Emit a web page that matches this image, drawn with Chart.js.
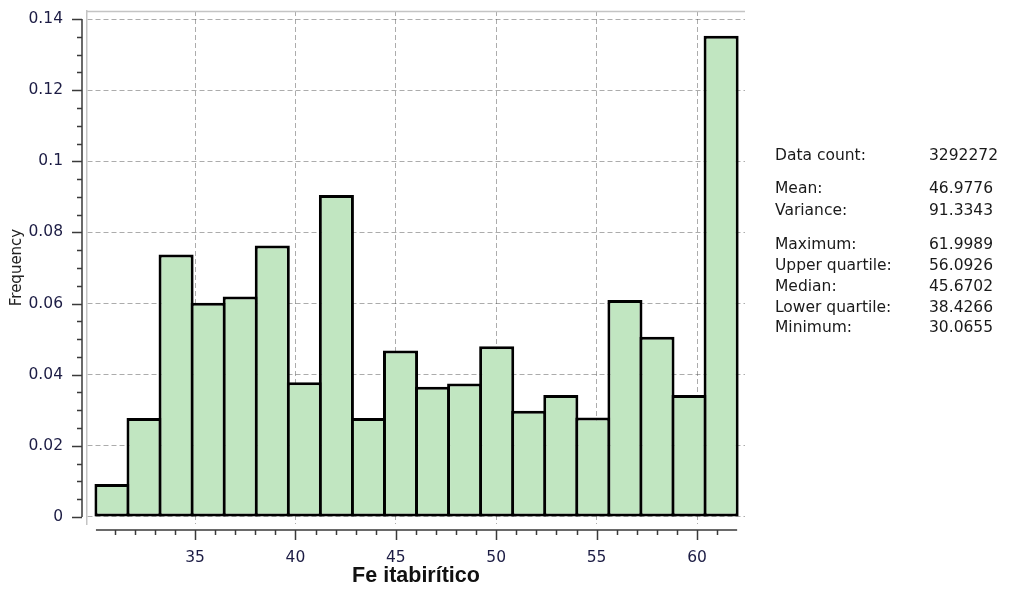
<!DOCTYPE html>
<html>
<head>
<meta charset="utf-8">
<script src="https://cdn.jsdelivr.net/npm/chart.js@4.4.1/dist/chart.umd.min.js"></script>
<style>
html,body{margin:0;padding:0;background:#ffffff;}
canvas{display:block;}
</style>
</head>
<body>
<canvas id="c" width="1011" height="589"></canvas>
<script>
// ---- data ----
const binEdges = [30.0655, 31.6622, 33.2588, 34.8555, 36.4522, 38.0489, 39.6455, 41.2422, 42.8389, 44.4355, 46.0322,
                  47.6289, 49.2255, 50.8222, 52.4189, 54.0156, 55.6122, 57.2089, 58.8056, 60.4022, 61.9989];
const frequencies = [0.0093, 0.0278, 0.0738, 0.0602, 0.0620, 0.0763, 0.0379, 0.0905, 0.0278, 0.0468,
                     0.0366, 0.0375, 0.0480, 0.0299, 0.0343, 0.0280, 0.0610, 0.0507, 0.0343, 0.1353];
const xTickValues = [35, 40, 45, 50, 55, 60];
const yTickValues = [0, 0.02, 0.04, 0.06, 0.08, 0.1, 0.12, 0.14];
const yTickLabels = ['0', '0.02', '0.04', '0.06', '0.08', '0.1', '0.12', '0.14'];
const statLabels = ['Data count:', 'Mean:', 'Variance:', 'Maximum:', 'Upper quartile:', 'Median:', 'Lower quartile:', 'Minimum:'];
const statValues = ['3292272', '46.9776', '91.3343', '61.9989', '56.0926', '45.6702', '38.4266', '30.0655'];
const xTitle = 'Fe itabirítico';
const yTitle = 'Frequency';

const barPoints = frequencies.map((f, i) => ({ x: (binEdges[i] + binEdges[i + 1]) / 2, y: f }));

const TICK_COLOR = '#1c1c44';
const GRID_COLOR = 'rgba(70,70,70,0.45)';

// custom axes (offset axis lines with major/minor ticks), frame top line, statistics panel
const decorations = {
  id: 'decorations',
  afterDraw(chart) {
    const ctx = chart.ctx;
    const xs = chart.scales.x, ys = chart.scales.y;
    const area = chart.chartArea;
    ctx.save();
    // frame top line
    ctx.strokeStyle = '#c4c4c4';
    ctx.lineWidth = 1.5;
    ctx.beginPath();
    ctx.moveTo(area.left, area.top + 0.5);
    ctx.lineTo(area.right, area.top + 0.5);
    ctx.stroke();

    ctx.strokeStyle = '#3a3a3a';
    ctx.lineWidth = 1.5;
    // y axis
    const yAxisX = area.left - 5;
    const y0 = ys.getPixelForValue(yTickValues[0]);
    const y1 = ys.getPixelForValue(yTickValues[yTickValues.length - 1]);
    ctx.beginPath();
    ctx.moveTo(yAxisX, y0);
    ctx.lineTo(yAxisX, y1);
    for (let k = 0; k < yTickValues.length; k++) {
      const p = Math.round(ys.getPixelForValue(yTickValues[k])) + 0.5;
      ctx.moveTo(yAxisX - 10, p);
      ctx.lineTo(yAxisX, p);
    }
    for (let k = 0; k < yTickValues.length - 1; k++) {
      const a = yTickValues[k], b = yTickValues[k + 1];
      for (let m = 1; m < 4; m++) {
        const p = Math.round(ys.getPixelForValue(a + (b - a) * m / 4)) + 0.5;
        ctx.moveTo(yAxisX - 5, p);
        ctx.lineTo(yAxisX, p);
      }
    }
    ctx.stroke();

    // x axis
    const xAxisY = area.bottom + 6;
    const xa = xs.getPixelForValue(binEdges[0]);
    const xb = xs.getPixelForValue(binEdges[binEdges.length - 1]);
    ctx.beginPath();
    ctx.moveTo(xa, xAxisY);
    ctx.lineTo(xb, xAxisY);
    for (let v = Math.ceil(binEdges[0]); v < binEdges[binEdges.length - 1]; v++) {
      const p = Math.round(xs.getPixelForValue(v)) + 0.5;
      const major = xTickValues.indexOf(v) >= 0;
      ctx.moveTo(p, xAxisY);
      ctx.lineTo(p, xAxisY + (major ? 10 : 5));
    }
    ctx.stroke();

    // statistics panel
    ctx.fillStyle = '#1a1a1a';
    ctx.font = '15.5px "DejaVu Sans"';
    ctx.textBaseline = 'middle';
    ctx.textAlign = 'left';
    const rowY = [155.5, 189, 210.5, 244.5, 266, 287, 307.5, 328];
    for (let i = 0; i < statLabels.length; i++) {
      ctx.fillText(statLabels[i], 775, rowY[i]);
      ctx.fillText(statValues[i], 929, rowY[i]);
    }
    ctx.restore();
  }
};

new Chart(document.getElementById('c'), {
  type: 'bar',
  data: {
    datasets: [{
      data: barPoints,
      backgroundColor: '#c1e6c1',
      borderColor: '#000000',
      borderWidth: 3,
      borderSkipped: false,
      barPercentage: 1.094,
      categoryPercentage: 1.0
    }]
  },
  options: {
    responsive: false,
    animation: false,
    devicePixelRatio: 1,
    layout: { padding: { top: 11, right: 266, left: 0, bottom: 0 } },
    plugins: { legend: { display: false }, tooltip: { enabled: false } },
    scales: {
      x: {
        type: 'linear',
        min: 29.62,
        max: 62.39,
        offset: false,
        z: 1,
        afterBuildTicks(scale) { scale.ticks = xTickValues.map(v => ({ value: v })); },
        afterFit(scale) { scale.height = 65; scale.paddingLeft = 0; scale.paddingRight = 0; },
        grid: { offset: false, color: GRID_COLOR, lineWidth: 1, drawTicks: false },
        border: { display: false, dash: [5, 3] },
        ticks: {
          padding: 25,
          color: TICK_COLOR,
          font: { family: 'DejaVu Sans', size: 15.5 },
          maxRotation: 0,
          autoSkip: false,
          callback: (v) => String(v)
        },
        title: {
          display: true,
          text: xTitle,
          color: '#111111',
          font: { family: 'Liberation Sans', size: 21.5, weight: 'bold' },
          padding: { top: 0, bottom: 0 }
        }
      },
      y: {
        type: 'linear',
        min: -0.00197,
        max: 0.14225,
        z: 1,
        afterBuildTicks(scale) { scale.ticks = yTickValues.map(v => ({ value: v })); },
        afterFit(scale) { scale.width = 87; scale.paddingTop = 0; scale.paddingBottom = 0; },
        grid: { color: GRID_COLOR, lineWidth: 1, drawTicks: false },
        border: { display: true, color: '#c4c4c4', width: 1.5, dash: [5, 3] },
        ticks: {
          padding: 24,
          color: TICK_COLOR,
          font: { family: 'DejaVu Sans', size: 15.5 },
          autoSkip: false,
          callback: (v) => { const i = yTickValues.indexOf(v); return i >= 0 ? yTickLabels[i] : ''; }
        },
        title: {
          display: true,
          text: yTitle,
          color: '#222222',
          font: { family: 'DejaVu Sans', size: 15 },
          padding: { top: 8, bottom: 0 }
        }
      }
    }
  },
  plugins: [decorations]
});
</script>
</body>
</html>
